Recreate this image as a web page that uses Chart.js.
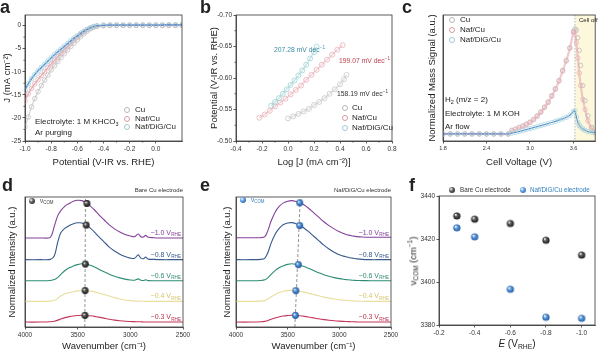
<!DOCTYPE html>
<html><head><meta charset="utf-8">
<script src="https://cdn.jsdelivr.net/npm/chart.js@4.4.1/dist/chart.umd.min.js"></script>
<style>
html,body{margin:0;padding:0;background:#fff}
body{position:relative;width:600px;height:352px;overflow:hidden;font-family:"Liberation Sans",Arial,sans-serif}
canvas{position:absolute}
.n{position:absolute;white-space:nowrap;line-height:1;color:#222}
.n sub{font-size:68%;vertical-align:-0.3em;line-height:0}
.n sup{font-size:68%;vertical-align:0.55em;line-height:0}
.o{position:absolute;width:4px;height:4px;border:0.9px solid #999;border-radius:50%;transform:translate(-50%,-50%)}
.s{position:absolute;width:6px;height:6px;border-radius:50%;transform:translate(-50%,-50%)}
</style></head><body>
<script>
// ---------- data ----------
// a: LSV in Ar
const aPotential = [-1.0,-0.975,-0.95,-0.925,-0.9,-0.875,-0.85,-0.825,-0.8,-0.775,-0.75,-0.725,-0.7,-0.675,-0.65,-0.625,-0.6,-0.575,-0.55,-0.525,-0.5,-0.475,-0.45,
  -0.4,-0.35,-0.3,-0.25,-0.2,-0.15,-0.1,-0.05,0.0,0.05,0.1,0.15,0.2];
const aCu = [-21.9,-19.8,-17.6,-15.8,-14.3,-13.0,-11.8,-10.7,-9.6,-8.7,-7.8,-6.9,-6.1,-5.3,-4.5,-3.8,-3.1,-2.4,-1.8,-1.2,-0.7,-0.35,-0.15,
  0.0,0.05,0.05,0.05,0.05,0.05,0.05,0.05,0.05,0.05,0.05,0.05,0.05];
const aNafCu = [-16.3,-14.8,-13.6,-12.6,-11.7,-10.8,-10.0,-9.1,-8.3,-7.5,-6.7,-5.9,-5.2,-4.5,-3.8,-3.1,-2.5,-1.9,-1.4,-0.9,-0.5,-0.25,-0.1,
  0.0,0.05,0.05,0.05,0.05,0.05,0.05,0.05,0.05,0.05,0.05,0.05,0.05];
const aNafDiG = [-14.0,-12.6,-11.5,-10.6,-9.8,-9.1,-8.4,-7.7,-7.0,-6.3,-5.7,-5.1,-4.5,-3.9,-3.3,-2.7,-2.2,-1.7,-1.2,-0.8,-0.45,-0.2,-0.05,
  0.1,0.15,0.15,0.15,0.15,0.15,0.15,0.15,0.15,0.15,0.2,0.2,0.2];
const aTicksX = [-1.0,-0.8,-0.6,-0.4,-0.2,0.0];
const aTicksY = [0,-5,-10,-15,-20,-25];

// b: Tafel
const bLogJCu = [0.00,0.04,0.08,0.12,0.16,0.20,0.24,0.28,0.32,0.36,0.40,0.43,0.45];
const bECu = [-0.536,-0.539,-0.543,-0.547,-0.551,-0.557,-0.562,-0.568,-0.575,-0.582,-0.590,-0.598,-0.605];
const bLogJNafCu = [-0.22,-0.18,-0.14,-0.10,-0.06,-0.02,0.02,0.06,0.10,0.14,0.18,0.22,0.26,0.30,0.34,0.38,0.42];
const bENafCu = [-0.537,-0.542,-0.548,-0.555,-0.561,-0.567,-0.574,-0.581,-0.588,-0.597,-0.605,-0.613,-0.621,-0.629,-0.637,-0.645,-0.652];
const bLogJNafDiG = [-0.13,-0.10,-0.07,-0.04,-0.01,0.02,0.05,0.08,0.11,0.14,0.17,0.20,0.22];
const bENafDiG = [-0.556,-0.562,-0.568,-0.575,-0.582,-0.589,-0.596,-0.604,-0.612,-0.621,-0.631,-0.641,-0.650];
const bTicksX = [-0.4,-0.2,0.0,0.2,0.4,0.6,0.8];
const bTicksY = [-0.70,-0.65,-0.60,-0.55,-0.50];

// c: DEMS H2 signal
const cVoltage = [1.8,1.9,2.0,2.1,2.2,2.3,2.4,2.5,2.6,2.7,2.75,2.8,2.85,2.9,2.95,3.0,3.05,3.1,3.15,3.2,3.25,3.3,3.35,3.4,3.45,3.5,3.55,3.6,
  3.62,3.64,3.66,3.68,3.7,3.73,3.76,3.8,3.85,3.9];
const cCu = [0.056,0.056,0.056,0.056,0.056,0.056,0.056,0.056,0.056,0.056,
  0.085,0.095,0.108,0.12,0.135,0.15,0.172,0.2,0.232,0.27,0.31,0.36,0.415,0.48,0.56,0.64,0.74,0.87,
  0.89,0.88,0.82,0.72,0.6,0.44,0.32,0.2,0.11,0.065];
const cNafCu = [0.056,0.056,0.056,0.056,0.056,0.056,0.056,0.056,0.056,0.056,
  0.082,0.092,0.104,0.116,0.13,0.146,0.168,0.196,0.228,0.265,0.305,0.355,0.41,0.475,0.555,0.635,0.735,0.86,
  0.87,0.78,0.66,0.54,0.44,0.33,0.25,0.16,0.1,0.07];
const cNafDiG = [0.056,0.056,0.056,0.056,0.056,0.056,0.056,0.056,0.056,0.056,
  0.062,0.068,0.075,0.082,0.09,0.098,0.106,0.114,0.122,0.13,0.138,0.147,0.156,0.166,0.176,0.188,0.205,0.235,
  0.24,0.19,0.15,0.125,0.11,0.095,0.085,0.075,0.07,0.066];
const cTicksX = [1.8,2.4,3.0,3.6];

// d, e: IR spectra (offset stacks)
const wavenumber = [4000,3850,3760,3720,3690,3660,3620,3580,3540,3500,3460,3420,3380,3340,3300,3250,3200,3150,3100,3050,3000,2960,2925,2900,2875,2855,2830,2780,2700,2600,2500];
const potentials = ['\u22121.0','\u22120.8','\u22120.6','\u22120.4','\u22120.3'];
const dBare10 = [6.85,6.85,6.9,7.8,8.55,8.95,9.3,9.5,9.68,9.75,9.72,9.55,9.3,9.0,8.65,8.25,7.85,7.55,7.3,7.12,7.0,6.95,7.15,6.95,6.92,7.05,6.9,6.87,6.85,6.85,6.85];
const dBare08 = [5.18,5.18,5.2,5.5,6.5,7.25,7.6,7.8,7.95,8.02,8.0,7.85,7.6,7.3,6.95,6.55,6.15,5.85,5.6,5.42,5.3,5.28,5.55,5.3,5.25,5.38,5.22,5.2,5.18,5.18,5.18];
const dBare06 = [3.56,3.56,3.58,3.65,3.8,4.05,4.35,4.55,4.7,4.8,4.86,4.84,4.75,4.62,4.45,4.25,4.05,3.9,3.78,3.68,3.62,3.6,3.7,3.6,3.58,3.63,3.57,3.56,3.56,3.56,3.56];
const dBare04 = [1.97,1.97,1.99,2.05,2.2,2.38,2.55,2.65,2.72,2.78,2.81,2.8,2.76,2.7,2.62,2.5,2.38,2.26,2.16,2.08,2.03,2.0,1.99,1.98,1.98,1.97,1.97,1.97,1.97,1.97,1.97];
const dBare03 = [0.38,0.38,0.4,0.44,0.52,0.62,0.72,0.8,0.85,0.88,0.9,0.89,0.86,0.82,0.76,0.68,0.6,0.53,0.48,0.44,0.42,0.41,0.4,0.4,0.39,0.39,0.38,0.38,0.38,0.38,0.38];
const eNaf10 = [6.87,6.87,6.87,6.95,7.45,8.15,8.85,9.3,9.55,9.68,9.72,9.66,9.55,9.38,9.15,8.8,8.45,8.1,7.8,7.55,7.33,7.2,7.1,7.05,7.0,6.98,6.95,6.92,6.9,6.9,6.9];
const eNaf08 = [5.18,5.18,5.2,5.3,5.75,6.45,7.15,7.6,7.88,8.0,8.03,7.95,7.8,7.6,7.35,7.0,6.65,6.3,6.0,5.75,5.55,5.45,5.38,5.33,5.3,5.27,5.24,5.2,5.18,5.18,5.18];
const eNaf06 = [3.56,3.56,3.58,3.63,3.8,4.05,4.35,4.58,4.72,4.82,4.87,4.83,4.75,4.65,4.52,4.35,4.18,4.02,3.9,3.8,3.72,3.67,3.64,3.62,3.6,3.59,3.58,3.57,3.56,3.56,3.56];
const eNaf04 = [1.97,1.97,1.99,2.03,2.15,2.32,2.5,2.65,2.75,2.8,2.82,2.79,2.74,2.68,2.6,2.5,2.4,2.3,2.22,2.15,2.1,2.06,2.04,2.02,2.01,2.0,1.99,1.98,1.97,1.97,1.97];
const eNaf03 = [0.38,0.38,0.4,0.43,0.5,0.6,0.7,0.79,0.85,0.88,0.9,0.89,0.86,0.82,0.77,0.7,0.63,0.57,0.52,0.48,0.45,0.43,0.42,0.41,0.4,0.4,0.39,0.39,0.38,0.38,0.38];
const wnTicks = [4000,3500,3000,2500];
// marker heights on the spectra, ordered -0.3 ... -1.0 like f
const dComY = [0.89,2.8,4.84,7.84,9.5];
const eComY = [0.89,2.79,4.79,7.8,9.55];
const dGuideWn = [3432,3426], dGuideY = [0,10];
const eGuideWn = [3430,3378], eGuideY = [0,10];

// f: nu_COM vs potential
const fPotential = [-0.3,-0.4,-0.6,-0.8,-1.0];
const fBareCu = [3430.7,3429.2,3427.2,3419.4,3412.5];
const fNafDiG = [3425.2,3421.0,3396.6,3383.6,3383.1];
const fTicksX = [-0.2,-0.4,-0.6,-0.8,-1.0];
const fTicksY = [3380,3400,3420,3440];

// ---------- helpers ----------
const FONT = '"Liberation Sans", Arial, Helvetica, sans-serif';
Chart.defaults.font.family = FONT;
Chart.defaults.color = '#222';
const xy = (xs, ys) => xs.map((x, i) => ({x, y: ys[i]}));

const frame = {
  id: 'frame',
  afterDraw(chart) {
    const {ctx, chartArea: a} = chart;
    ctx.save(); ctx.strokeStyle = '#333'; ctx.lineWidth = 0.8;
    ctx.strokeRect(a.left, a.top, a.right - a.left, a.bottom - a.top);
    ctx.restore();
  }
};

// small ticks half way between the major ones
const minor = {
  id: 'minor',
  afterDraw(chart) {
    const {ctx, chartArea: a, scales: {x, y}} = chart;
    ctx.save(); ctx.strokeStyle = '#333'; ctx.lineWidth = 0.7;
    ctx.beginPath();
    const mids = s => s.ticks.slice(1).map((t, i) => (t.value + s.ticks[i].value) / 2);
    mids(x).forEach(v => { const p = x.getPixelForValue(v); ctx.moveTo(p, a.bottom); ctx.lineTo(p, a.bottom + 1.6); });
    mids(y).forEach(v => { const p = y.getPixelForValue(v); ctx.moveTo(a.left, p); ctx.lineTo(a.left - 1.6, p); });
    ctx.stroke(); ctx.restore();
  }
};

function axis(o) {
  return {
    type: 'linear', min: o.min, max: o.max, reverse: !!o.reverse,
    border: {color: '#333', width: 0.8},
    grid: {drawOnChartArea: false, drawTicks: o.tickLen !== 0, tickLength: o.tickLen ?? 2.5, color: '#333', lineWidth: 0.8},
    afterBuildTicks: s => { s.ticks = o.ticks.map(v => ({value: v})); },
    ticks: {display: !o.noLabels, font: {size: o.tsize || 6.5}, color: '#333', padding: 1.5,
      callback: v => o.fmt ? o.fmt(v) : String(v)},
    title: {display: !!o.title, text: o.title, font: {size: 9.5}, color: '#222',
      padding: {top: o.tpad || 0, bottom: o.tpad || 0}}
  };
}

function panel(rect, box, datasets, scales, plugins = []) {
  const cv = document.createElement('canvas');
  cv.width = rect.w; cv.height = rect.h;
  cv.style.left = rect.x + 'px'; cv.style.top = rect.y + 'px';
  document.body.appendChild(cv);
  scales.x.afterFit = s => { s.height = rect.h - box.b; };
  scales.y.afterFit = s => { s.width = box.l; };
  return new Chart(cv, {
    type: 'scatter',
    data: {datasets},
    options: {
      responsive: false, animation: false, events: [],
      layout: {padding: {left: 0, top: box.t, right: rect.w - box.r, bottom: 0}},
      plugins: {legend: {display: false}, tooltip: {enabled: false}},
      scales
    },
    plugins: [frame, ...plugins]
  });
}

const ring = (data, stroke, line, lw, r = 2.3) => ({
  data, showLine: lw > 0, borderColor: line, borderWidth: lw, tension: 0.2,
  pointRadius: r, pointBorderColor: stroke, pointBackgroundColor: 'rgba(255,255,255,0)', pointBorderWidth: 0.8
});
const trace = (data, color) => ({data, showLine: true, borderColor: color, borderWidth: 1.1, tension: 0.3, pointRadius: 0});
const guide = data => ({data, showLine: true, borderColor: '#777', borderWidth: 0.8, borderDash: [3, 2], pointRadius: 0});

function sphere(light, dark, r) {
  const c = document.createElement('canvas');
  const s = Math.ceil(2 * r + 2); c.width = c.height = s;
  const g = c.getContext('2d');
  const grd = g.createRadialGradient(s / 2 - r * 0.35, s / 2 - r * 0.35, r * 0.1, s / 2, s / 2, r);
  grd.addColorStop(0, '#ffffff'); grd.addColorStop(0.3, light); grd.addColorStop(1, dark);
  g.fillStyle = grd; g.beginPath(); g.arc(s / 2, s / 2, r, 0, Math.PI * 2); g.fill();
  return c;
}
const balls = (data, img) => ({data, pointStyle: img, pointRadius: 3.5});

function note(html, x, y, o = {}) {
  const d = document.createElement('div');
  d.className = 'n'; d.innerHTML = html;
  d.style.left = x + 'px'; d.style.top = y + 'px';
  d.style.fontSize = (o.size || 8) + 'px';
  if (o.color) d.style.color = o.color;
  if (o.bold) d.style.fontWeight = 'bold';
  const tx = o.align === 'right' ? '-100%' : o.align === 'center' ? '-50%' : '0';
  d.style.transform = `translate(${tx},-50%)` + (o.rot ? ` rotate(${o.rot}deg)` : '');
  document.body.appendChild(d);
}
function openDot(x, y, color) {
  const d = document.createElement('div'); d.className = 'o';
  d.style.left = x + 'px'; d.style.top = y + 'px'; d.style.borderColor = color;
  document.body.appendChild(d);
}
function ballDot(x, y, light, dark) {
  const d = document.createElement('div'); d.className = 's';
  d.style.left = x + 'px'; d.style.top = y + 'px';
  d.style.background = `radial-gradient(circle at 35% 35%, #fff 0, ${light} 35%, ${dark} 100%)`;
  document.body.appendChild(d);
}

function vLabels(colors) {
  const bases = [6.85, 5.18, 3.56, 1.97, 0.38];
  return {
    id: 'vlabels',
    afterDatasetsDraw(chart) {
      const {ctx, chartArea: a, scales: {y}} = chart;
      ctx.save(); ctx.textAlign = 'right';
      bases.forEach((b, i) => {
        const py = y.getPixelForValue(b) - 3;
        ctx.fillStyle = colors[i];
        ctx.font = `4.6px ${FONT}`;
        const sw = ctx.measureText('RHE').width;
        ctx.fillText('RHE', a.right - 2, py + 1.5);
        ctx.font = `7px ${FONT}`;
        ctx.fillText(potentials[i] + ' V', a.right - 2.3 - sw, py);
      });
      ctx.restore();
    }
  };
}

const cellOff = {
  id: 'celloff',
  beforeDatasetsDraw(chart) {
    const {ctx, chartArea: a, scales: {x}} = chart;
    const x0 = x.getPixelForValue(3.62);
    ctx.save();
    ctx.fillStyle = '#fdf7dc';
    ctx.fillRect(x0, a.top, a.right - x0, a.bottom - a.top);
    ctx.strokeStyle = '#aaa'; ctx.setLineDash([1.5, 1.5]); ctx.lineWidth = 0.8;
    ctx.beginPath(); ctx.moveTo(x0, a.top); ctx.lineTo(x0, a.bottom); ctx.stroke();
    ctx.restore();
  }
};

const f1 = v => v.toFixed(1), f2 = v => v.toFixed(2);

// ---------- a ----------
panel({x: 0, y: 0, w: 200, h: 176}, {l: 25, r: 182, t: 15, b: 141}, [
  ring(xy(aPotential, aNafDiG), '#9dd3da', 'rgba(70,130,205,0.85)', 1.5),
  ring(xy(aPotential, aNafCu), '#e6b0b7', 'rgba(215,120,135,0.6)', 1.4),
  ring(xy(aPotential, aCu), '#c2c2c2', 'rgba(170,170,170,0.5)', 1.2)
], {
  x: axis({min: -1.0, max: 0.2, ticks: aTicksX, fmt: f1, title: 'Potential (V-IR vs. RHE)', tpad: 8}),
  y: axis({min: -25, max: 2.3, ticks: aTicksY, title: 'J (mA cm\u207B\u00B2)', tpad: 2})
}, [minor]);

// ---------- b ----------
panel({x: 200, y: 0, w: 200, h: 176}, {l: 36, r: 192, t: 15, b: 141}, [
  ring(xy(bLogJNafDiG, bENafDiG), '#9fd2d6', 'rgba(140,200,205,0.45)', 1.5, 2.5),
  ring(xy(bLogJNafCu, bENafCu), '#e8b0b7', 'rgba(225,160,170,0.45)', 1.5, 2.5),
  ring(xy(bLogJCu, bECu), '#c8c8c8', 'rgba(190,190,190,0.45)', 1.5, 2.5)
], {
  x: axis({min: -0.4, max: 0.8, ticks: bTicksX, fmt: f1, title: 'Log [J (mA cm\u207B\u00B2)]', tpad: 8}),
  y: axis({min: -0.70, max: -0.50, reverse: true, ticks: bTicksY, fmt: f2, title: 'Potential (V-IR vs. RHE)', tpad: 9})
}, [minor]);

// ---------- c ----------
panel({x: 400, y: 0, w: 200, h: 176}, {l: 43, r: 199, t: 15, b: 141}, [
  ring(xy(cVoltage, cNafDiG), '#a9d5de', 'rgba(60,120,190,0.85)', 1.2, 2.2),
  ring(xy(cVoltage, cNafCu), '#e6b3ba', 'rgba(225,160,172,0.55)', 2.2, 2.2),
  ring(xy(cVoltage, cCu), '#bdbdbd', 'rgba(0,0,0,0)', 0, 2.2)
], {
  x: axis({min: 1.8, max: 3.9, ticks: cTicksX, fmt: f1, tsize: 5.5, title: 'Cell Voltage (V)', tpad: 8}),
  y: axis({min: 0, max: 1, ticks: [0], noLabels: true, tickLen: 0, title: 'Normalized Mass Signal (a.u.)', tpad: 27})
}, [cellOff]);

// ---------- d, e ----------
const specColors = ['#84409a', '#37598c', '#2e8c74', '#e8df9e', '#c4365a'];
const labelColors = ['#7b3b93', '#345a8c', '#2f8a72', '#d4c46c', '#b8304a'];
const blackBall = sphere('#606060', '#111', 3.4);
const blueBall = sphere('#5e9ee0', '#1b4f96', 3.4);

panel({x: 0, y: 175, w: 200, h: 177}, {l: 25, r: 183, t: 22, b: 152}, [
  balls(xy(fBareCu, dComY), blackBall),
  guide(xy(dGuideWn, dGuideY)),
  trace(xy(wavenumber, dBare10), specColors[0]),
  trace(xy(wavenumber, dBare08), specColors[1]),
  trace(xy(wavenumber, dBare06), specColors[2]),
  trace(xy(wavenumber, dBare04), specColors[3]),
  trace(xy(wavenumber, dBare03), specColors[4])
], {
  x: axis({min: 2500, max: 4000, reverse: true, ticks: wnTicks, title: 'Wavenumber (cm\u207B\u00B9)', tpad: 0}),
  y: axis({min: 0, max: 10, ticks: [0], noLabels: true, tickLen: 0, title: 'Normalized Intensity (a.u.)', tpad: 7})
}, [vLabels(labelColors)]);

panel({x: 200, y: 175, w: 200, h: 177}, {l: 36, r: 191, t: 22, b: 152}, [
  balls(xy(fNafDiG, eComY), blueBall),
  guide(xy(eGuideWn, eGuideY)),
  trace(xy(wavenumber, eNaf10), specColors[0]),
  trace(xy(wavenumber, eNaf08), specColors[1]),
  trace(xy(wavenumber, eNaf06), specColors[2]),
  trace(xy(wavenumber, eNaf04), specColors[3]),
  trace(xy(wavenumber, eNaf03), specColors[4])
], {
  x: axis({min: 2500, max: 4000, reverse: true, ticks: wnTicks, title: 'Wavenumber (cm\u207B\u00B9)', tpad: 0}),
  y: axis({min: 0, max: 10, ticks: [0], noLabels: true, tickLen: 0, title: 'Normalized Intensity (a.u.)', tpad: 22})
}, [vLabels(labelColors)]);

// ---------- f ----------
const fBlack = sphere('#666', '#151515', 3.6);
const fBlue = sphere('#6aa6e6', '#1d55a0', 3.6);
panel({x: 400, y: 175, w: 200, h: 177}, {l: 39, r: 197, t: 21, b: 150}, [
  balls(xy(fPotential, fBareCu), fBlack),
  balls(xy(fPotential, fNafDiG), fBlue)
], {
  x: axis({min: -1.075, max: -0.2, reverse: true, ticks: fTicksX, fmt: f1}),
  y: axis({min: 3380, max: 3440, ticks: fTicksY})
});

// ---------- text ----------
['a', 'b', 'c'].forEach((t, i) => note(t, [0, 200, 402][i], 7, {size: 18, bold: true}));
['d', 'e', 'f'].forEach((t, i) => note(t, [2, 200, 409][i], 185, {size: 18, bold: true}));

note('Electrolyte: 1 M KHCO<sub>3</sub>', 35, 122);
note('Ar purging', 35, 133);
[['Cu', '#b5b5b5'], ['Naf/Cu', '#d99aa3'], ['Naf/DiG/Cu', '#9cc9d1']].forEach(([t, c], i) => {
  openDot(127, 110 + i * 8.7, c); note(t, 135, 110 + i * 8.7);
  openDot(345, 108.3 + i * 10, c); note(t, 352, 108.3 + i * 10);
  openDot(451.7, 20 + i * 10, c); note(t, 460, 20 + i * 10);
});
note('207.28 mV dec<sup>\u22121</sup>', 274, 50, {size: 6.8, color: '#3b8ea5'});
note('199.07 mV dec<sup>\u22121</sup>', 339, 60.7, {size: 6.8, color: '#c0404f'});
note('158.19 mV dec<sup>\u22121</sup>', 337, 94.3, {size: 6.8, color: '#333'});

note('H<sub>2</sub> (m/z = 2)', 445, 100);
note('Electrolyte: 1 M KOH', 445, 114);
note('Ar flow', 445, 127);
note('Cell off', 579, 20, {size: 6});

ballDot(32.3, 201, '#666', '#111');
note('\u03BD<sub>COM</sub>', 40, 201, {size: 6.5, color: '#444'});
note('Bare Cu electrode', 183, 190, {size: 6, align: 'right', color: '#333'});
ballDot(242.7, 200, '#5e9ee0', '#1b4f96');
note('\u03BD<sub>COM</sub>', 251, 200, {size: 6.5, color: '#3a7fc0'});
note('Naf/DiG/Cu electrode', 391, 190, {size: 6, align: 'right', color: '#333'});

ballDot(451.7, 190, '#666', '#111');
note('Bare Cu electrode', 460, 190, {size: 6.3, color: '#333'});
ballDot(522.7, 190, '#6aa6e6', '#1d55a0');
note('Naf/DiG/Cu electrode', 530, 190, {size: 6.3, color: '#2f7fbf'});
note('\u03BD<sub>COM</sub> (cm<sup>\u22121</sup>)', 413, 261, {size: 9.5, align: 'center', rot: -90});
note('<i>E</i> (V<sub>RHE</sub>)', 517, 344, {size: 10, align: 'center'});
</script>
</body></html>
